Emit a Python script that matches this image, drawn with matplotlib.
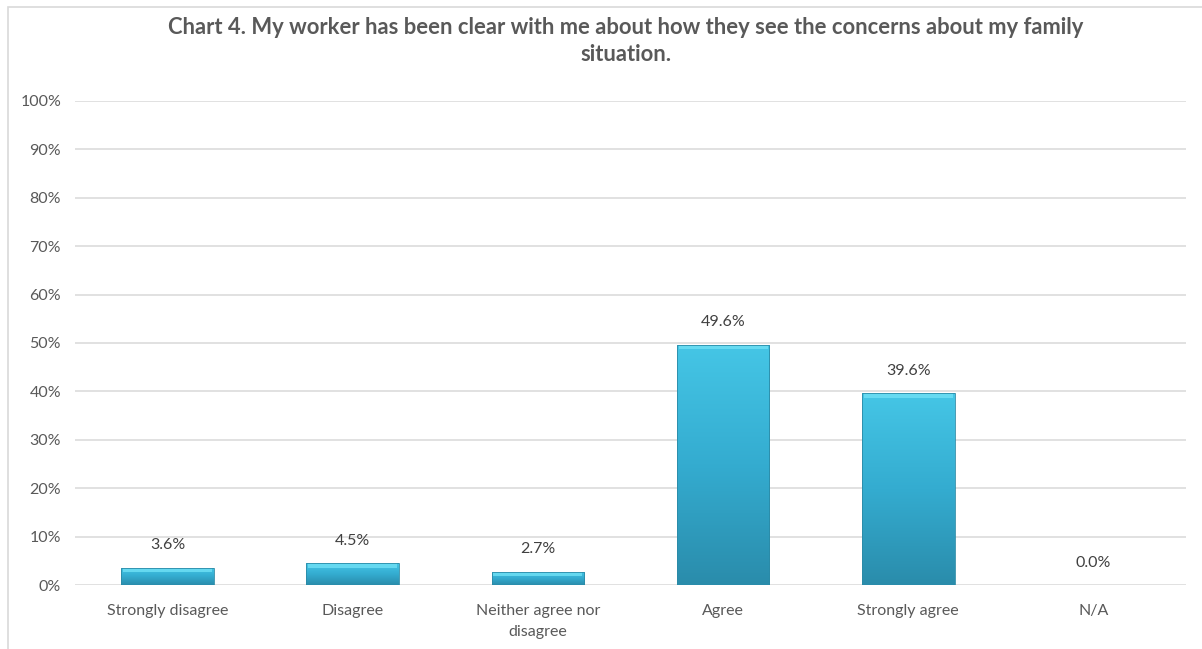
import matplotlib
matplotlib.use('Agg')
import matplotlib.pyplot as plt
import numpy as np
from matplotlib.patches import Rectangle
from matplotlib.colors import LinearSegmentedColormap

categories = ['Strongly disagree', 'Disagree', 'Neither agree nor\ndisagree',
              'Agree', 'Strongly agree', 'N/A']
values = [3.6, 4.5, 2.7, 49.6, 39.6, 0.0]
yticks = list(range(0, 101, 10))
title = ('Chart 4. My worker has been clear with me about how they see the concerns about my family\n'
         'situation.')

plt.rcParams['font.family'] = ['Lato', 'DejaVu Sans']

fig = plt.figure(figsize=(12.02, 6.49), dpi=100)
ax = fig.add_axes([0.0624, 0.0986, 0.9243, 0.7458])

# outline of the chart area (runs off the right and bottom edges)
fig.patches.append(Rectangle((8 / 1202, -0.1), 1.2, 1 - 7 / 649 + 0.1,
                             transform=fig.transFigure, fill=False,
                             edgecolor='#d9d9d9', linewidth=1.2))

x = np.arange(len(categories))
bars = ax.bar(x, values, width=0.5, color='#33a9cc', zorder=2)

# vertical shading on each bar, light cyan at top to deeper teal at the base
shade = LinearSegmentedColormap.from_list('shade', ['#2a8cab', '#34acd0', '#45c6e6'])
grad = np.linspace(0, 1, 256).reshape(-1, 1)
for b in bars:
    h = b.get_height()
    if h <= 0:
        continue
    x0, w = b.get_x(), b.get_width()
    im = ax.imshow(grad, cmap=shade, origin='lower', aspect='auto',
                   extent=(x0, x0 + w, 0, h), zorder=3)
    im.set_clip_path(b)
    # bevel highlight along the top
    ax.add_patch(Rectangle((x0 + 0.01, h - min(0.9, h * 0.3)), w - 0.02, min(0.9, h * 0.3),
                           facecolor='#6fe0f5', edgecolor='none', alpha=0.8, zorder=4))
    ax.add_patch(Rectangle((x0, 0), w, h, fill=False, edgecolor='#2b8aa6',
                           linewidth=0.6, zorder=5))

for xi, v in zip(x, values):
    ax.text(xi, v + 3.2, f'{v:.1f}%', ha='center', va='bottom',
            fontsize=11.5, color='#404040')

ax.set_xlim(-0.5, len(categories) - 0.5)
ax.set_ylim(0, 100)
ax.set_yticks(yticks)
ax.set_yticklabels([f'{t}%' for t in yticks])
ax.set_xticks(x)
ax.set_xticklabels(categories, linespacing=1.55)
ax.tick_params(axis='both', length=0, labelsize=11.5, labelcolor='#595959')
ax.tick_params(axis='x', pad=14)
ax.tick_params(axis='y', pad=10)
ax.grid(axis='y', color='#d9d9d9', linewidth=1.1, zorder=0)
ax.set_axisbelow(True)
for s in ax.spines.values():
    s.set_visible(False)

fig.text(626 / 1202, 1 - 41 / 649, title, ha='center', va='center', fontsize=15.8,
         fontweight='bold', color='#595959', linespacing=1.4)

fig.savefig('out.png', dpi=100)
